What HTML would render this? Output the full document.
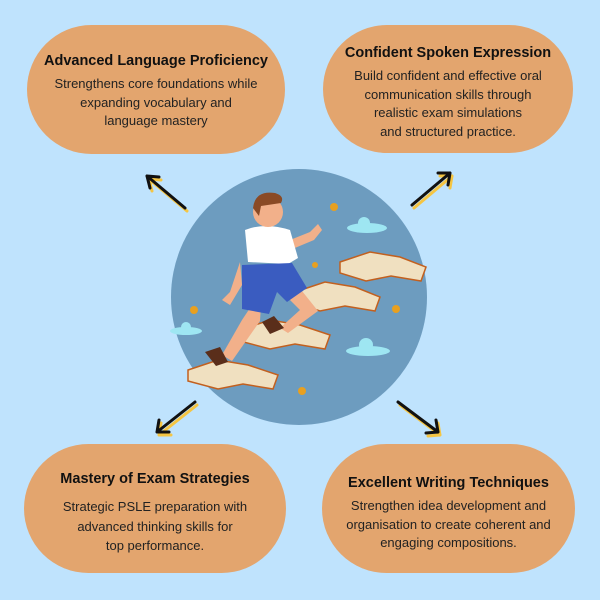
<!DOCTYPE html>
<html><head><style>
body{margin:0;width:600px;height:600px;background:#bfe3fd;font-family:"Liberation Sans",sans-serif;position:relative;overflow:hidden}
.p{position:absolute;background:#e3a56e;border-radius:65px;text-align:center;color:#222;box-sizing:border-box}
.p b{display:block;font-size:14.5px;color:#111;margin-bottom:6px}
.p span{font-size:13px;line-height:18.5px;display:block}
</style></head><body>
<div class="p" style="left:27px;top:25px;width:258px;height:129px;padding-top:28px"><b>Advanced Language Proficiency</b><span>Strengthens core foundations while<br>expanding vocabulary and<br>language mastery</span></div>
<div class="p" style="left:323px;top:25px;width:250px;height:128px;padding-top:20px"><b>Confident Spoken Expression</b><span>Build confident and effective oral<br>communication skills through<br>realistic exam simulations<br>and structured practice.</span></div>
<div class="p" style="left:24px;top:444px;width:262px;height:129px;padding-top:27px"><b style="margin-bottom:10px">Mastery of Exam Strategies</b><span style="line-height:19.5px">Strategic PSLE preparation with<br>advanced thinking skills for<br>top performance.</span></div>
<div class="p" style="left:322px;top:444px;width:253px;height:129px;padding-top:31px"><b>Excellent Writing Techniques</b><span>Strengthen idea development and<br>organisation to create coherent and<br>engaging compositions.</span></div>
<svg width="600" height="600" style="position:absolute;left:0;top:0">
<g stroke-linecap="round" stroke-linejoin="round" fill="none">
<g stroke="#f5c542" stroke-width="3" transform="translate(2,3)">
<path d="M185 208L147 176M147 176l3 12M147 176l12 1"/>
<path d="M412 205L450 173M450 173l-12 0M450 173l-2 12"/>
<path d="M195 402L157 432M157 432l12 0M157 432l2-12"/>
<path d="M398 402L438 432M438 432l-2-12M438 432l-12 1"/>
</g>
<g stroke="#111" stroke-width="3">
<path d="M185 208L147 176M147 176l3 12M147 176l12 1"/>
<path d="M412 205L450 173M450 173l-12 0M450 173l-2 12"/>
<path d="M195 402L157 432M157 432l12 0M157 432l2-12"/>
<path d="M398 402L438 432M438 432l-2-12M438 432l-12 1"/>
</g></g>
<circle cx="299" cy="297" r="128" fill="#6d9cbf"/>
<g fill="#9ee6f2"><ellipse cx="367" cy="228" rx="20" ry="5"/><circle cx="364" cy="223" r="6"/>
<ellipse cx="368" cy="351" rx="22" ry="5"/><circle cx="366" cy="345" r="7"/>
<ellipse cx="186" cy="331" rx="16" ry="4"/><circle cx="186" cy="327" r="5"/></g>
<g fill="#f0e0c0" stroke="#c2601f" stroke-width="1.5">
<path d="M340 262l30-10l30 5l26 10l-5 14l-30-5l-25 5l-26-8z"/>
<path d="M295 292l30-10l30 5l25 10l-5 14l-30-5l-25 5l-25-8z"/>
<path d="M240 330l30-10l30 5l30 10l-5 14l-30-5l-25 5l-30-8z"/>
<path d="M188 370l30-10l30 5l30 10l-5 14l-30-5l-25 5l-30-8z"/>
</g>
<g fill="#e8a020"><circle cx="334" cy="207" r="4"/><circle cx="396" cy="309" r="4"/><circle cx="194" cy="310" r="4"/><circle cx="302" cy="391" r="4"/><circle cx="315" cy="265" r="3"/></g>
<path d="M262 290l-20 30l-20 35l10 6l28-40z" fill="#f2b08a"/>
<path d="M280 290l20 20l-20 18l8 5l30-22l-20-25z" fill="#f2b08a"/>
<path d="M240 262l-10 30l-8 8l8 5l12-20z M290 240l20-8l8-8l4 6l-8 10l-24 10z" fill="#f2b08a"/>
<path d="M245 230q20-8 45 0l8 28l-10 6l-40-2z" fill="#fff"/>
<path d="M242 265l50-2l15 25l-20 14l-10-10l-8 22l-27-5z" fill="#3a5cc0"/>
<circle cx="268" cy="212" r="15" fill="#f2b08a"/>
<path d="M253 208q2-18 22-15q10 3 6 10l-20 3l-2 10z" fill="#8a4a25"/>
<path d="M205 352l15-5l8 15l-12 4z M262 322l12-6l10 12l-14 6z" fill="#5a2e1a"/>
</svg>
</body></html>
